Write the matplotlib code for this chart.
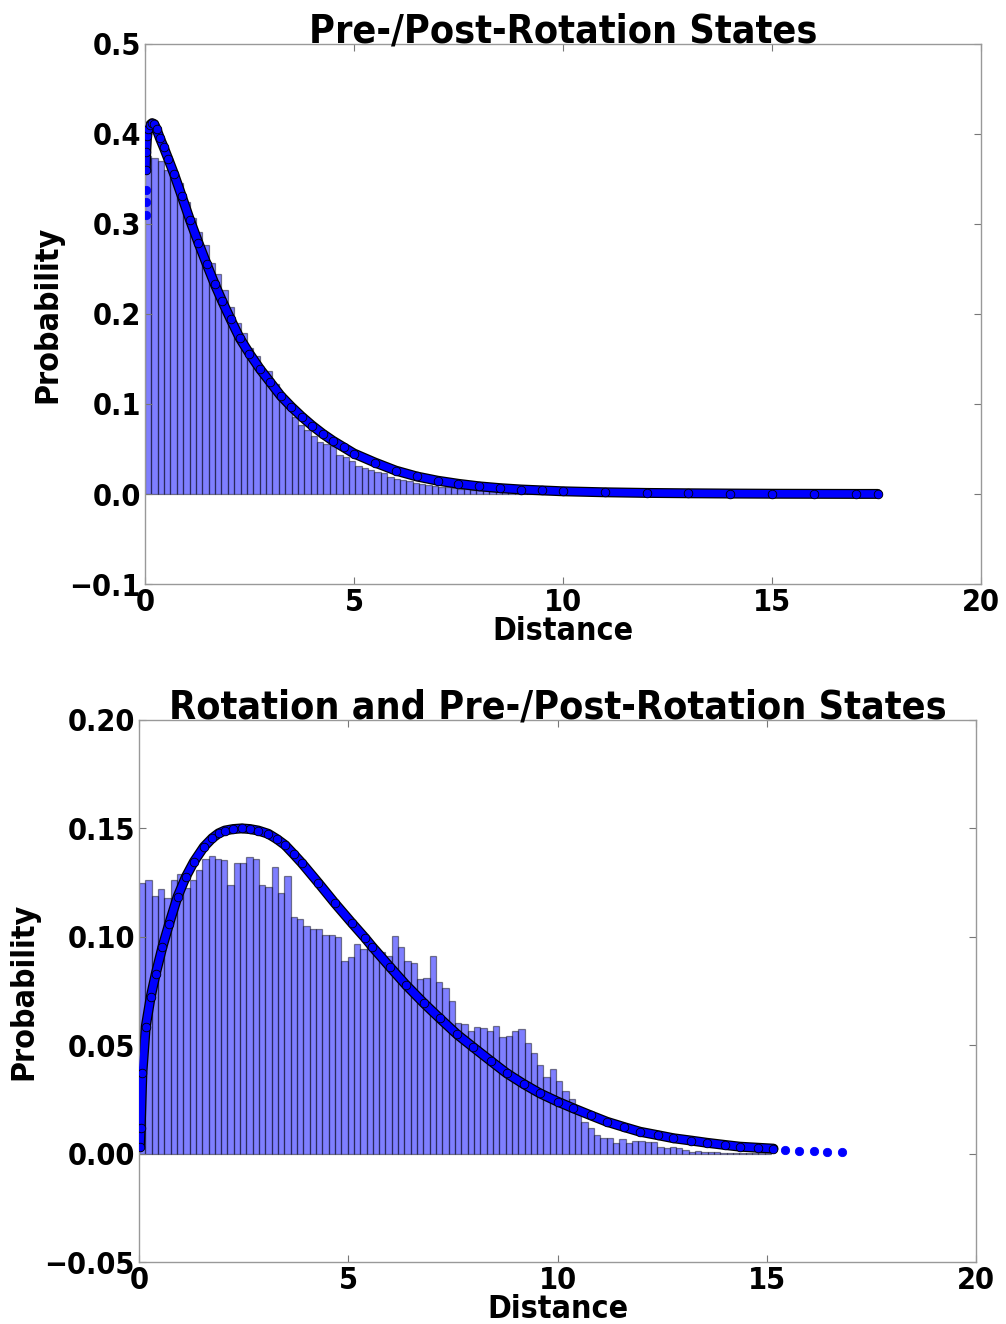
import numpy as np
import matplotlib
matplotlib.use("Agg")
import matplotlib.pyplot as plt
from matplotlib import font_manager as fm

# ---------------- data ----------------
top_hist_range = (0.0, 15.25)
top_hist_heights = [
    0.376, 0.373, 0.370, 0.360, 0.353, 0.346, 0.324, 0.307, 0.291, 0.277,
    0.257, 0.244, 0.227, 0.208, 0.190, 0.179, 0.162, 0.153, 0.137, 0.137,
    0.122, 0.108, 0.097, 0.086, 0.077, 0.071, 0.064, 0.058, 0.056, 0.053,
    0.043, 0.041, 0.037, 0.031, 0.029, 0.027, 0.025, 0.023, 0.019, 0.017,
    0.0156, 0.0144, 0.0125, 0.0110, 0.0100, 0.0090, 0.0082, 0.0075, 0.0068, 0.0060,
    0.0055, 0.0050, 0.0045, 0.0040, 0.0036, 0.0032, 0.0030, 0.0027, 0.0024, 0.0022,
    0.0020, 0.0018, 0.0016, 0.0015, 0.0013, 0.0012, 0.0011, 0.0010, 0.0009, 0.0008,
    0.0007, 0.0007, 0.0006, 0.0005, 0.0005, 0.0004, 0.0004, 0.0003, 0.0003, 0.0003,
    0.0002, 0.0002, 0.0002, 0.0002, 0.0002, 0.0002, 0.0002, 0.0002, 0.0002, 0.0002,
    0.0001, 0.0001, 0.0001, 0.0001, 0.0001, 0.0001, 0.0001, 0.0001, 0.0001, 0.0001,
]

top_iso_x = [0.02, 0.02, 0.02]
top_iso_y = [0.310, 0.324, 0.338]
top_curve_x = [0.02, 0.03, 0.05, 0.08, 0.12, 0.17, 0.22, 0.28, 0.36, 0.45, 0.56, 0.70, 0.88,
               1.08, 1.28, 1.48, 1.67, 1.85, 2.05, 2.27, 2.50, 2.75, 3.00, 3.25, 3.50,
               3.75, 4.00, 4.25, 4.50, 4.75, 5.00, 5.50, 6.00, 6.50, 7.00, 7.50, 8.00,
               8.50, 9.00, 9.50, 10.0, 11.0, 12.0, 13.0, 14.0, 15.0, 16.0, 17.0, 17.53]
top_curve_y = [0.360, 0.380, 0.398, 0.406, 0.410, 0.412, 0.411, 0.405, 0.395, 0.385, 0.372, 0.355, 0.331,
               0.304, 0.279, 0.255, 0.233, 0.214, 0.194, 0.173, 0.156, 0.139, 0.124, 0.109, 0.097,
               0.086, 0.076, 0.067, 0.059, 0.052, 0.045, 0.035, 0.026, 0.0195, 0.0148, 0.0113, 0.0085,
               0.0065, 0.0050, 0.0040, 0.0030, 0.0019, 0.0012, 0.0008, 0.0005, 0.0003, 0.0002, 0.0001, 0.0001]

bot_hist_range = (0.0, 15.1)
bot_hist_heights = [
    0.125, 0.126, 0.119, 0.122, 0.118, 0.126, 0.129, 0.1225, 0.126, 0.131,
    0.136, 0.1375, 0.136, 0.1355, 0.124, 0.134, 0.134, 0.137, 0.136, 0.124,
    0.123, 0.132, 0.120, 0.128, 0.109, 0.108, 0.105, 0.1035, 0.1035, 0.101,
    0.101, 0.100, 0.089, 0.0905, 0.0968, 0.0946, 0.097, 0.095, 0.093, 0.091,
    0.1005, 0.0952, 0.0889, 0.088, 0.0806, 0.081, 0.0913, 0.079, 0.0763, 0.0706,
    0.0601, 0.0598, 0.0566, 0.0584, 0.0578, 0.0566, 0.0589, 0.054, 0.0543, 0.0566,
    0.0575, 0.0512, 0.0463, 0.0409, 0.0355, 0.0389, 0.0337, 0.0289, 0.0251, 0.0198,
    0.0146, 0.0117, 0.0086, 0.0072, 0.0072, 0.0048, 0.0066, 0.0048, 0.0057, 0.0057,
    0.0054, 0.0054, 0.0032, 0.0025, 0.0029, 0.0025, 0.0017, 0.0009, 0.0014, 0.0008,
    0.0006, 0.0006, 0.0005, 0.0004, 0.0003, 0.0003, 0.0002, 0.0002, 0.0001, 0.0001,
]

bot_curve_x = [0.02, 0.04, 0.08, 0.16, 0.28, 0.40, 0.56, 0.72, 0.92, 1.12, 1.31, 1.55,
               1.75, 1.90, 2.05, 2.25, 2.45, 2.65, 2.85, 3.09, 3.30, 3.49, 3.70, 3.89,
               4.28, 4.68, 5.08, 5.40, 5.57, 6.00, 6.37, 6.80, 7.18, 7.60, 7.99, 8.40,
               8.79, 9.20, 9.58, 10.0, 10.38, 10.8, 11.18, 11.6, 11.97, 12.4, 12.77, 13.2,
               13.57, 14.0, 14.36, 14.8, 15.16]
bot_curve_y = [0.003, 0.012, 0.037, 0.0585, 0.0724, 0.083, 0.0954, 0.106, 0.1185, 0.1277, 0.1346, 0.1415,
               0.1455, 0.1477, 0.149, 0.1497, 0.150, 0.1497, 0.149, 0.1475, 0.145, 0.1423, 0.138, 0.134,
               0.125, 0.1155, 0.1065, 0.0995, 0.0955, 0.086, 0.078, 0.0695, 0.0625, 0.055, 0.049, 0.0428,
               0.037, 0.032, 0.0278, 0.024, 0.0209, 0.0176, 0.0147, 0.0122, 0.0101, 0.0085, 0.0071, 0.006,
               0.0050, 0.004, 0.0032, 0.0027, 0.0023]
bot_iso_x = [15.44, 15.78, 16.13, 16.43, 16.80]
bot_iso_y = [0.0017, 0.0013, 0.0011, 0.0009, 0.0006]

# ---------------- fonts ----------------
cond_file = None
for f in fm.fontManager.ttflist:
    fn = f.fname.lower()
    if 'dejavusanscondensed-bold.' in fn.replace(' ', ''):
        cond_file = f.fname
        break

if cond_file is not None:
    def fp(size):
        return fm.FontProperties(fname=cond_file, size=size)
    title_fs, label_fs, tick_fs = 28.3, 23, 22
else:
    def fp(size):
        return fm.FontProperties(family='DejaVu Sans', weight='bold', size=size)
    title_fs, label_fs, tick_fs = 25.5, 21, 20

plt.rcParams['font.family'] = ['DejaVu Sans']
plt.rcParams['font.weight'] = 'bold'

fig = plt.figure(figsize=(10.06, 13.24), dpi=100)
ax1 = fig.add_axes([0.1441, 0.5589, 0.8310, 0.4079])
ax2 = fig.add_axes([0.1382, 0.0468, 0.8320, 0.4094])


def draw(ax, hist_range, heights, cx, cy, ix, iy, title, ylim, yticks):
    n = len(heights)
    edges = np.linspace(hist_range[0], hist_range[1], n + 1)
    ax.bar(edges[:-1], heights, width=np.diff(edges), align='edge',
           color=(0, 0, 1, 0.5), edgecolor=(0, 0, 0, 0.45), linewidth=0.9, zorder=1)
    ax.plot(cx, cy, '-', color='black', lw=7.2, solid_capstyle='round',
            solid_joinstyle='round', zorder=2)
    ax.plot(cx, cy, '-', color='blue', lw=5.4, solid_capstyle='round',
            solid_joinstyle='round', zorder=3)
    ax.plot(cx, cy, 'o', color='blue', mec='black', mew=0.6, ms=6.2, zorder=4)
    ax.plot(ix, iy, 'o', color='blue', mec='blue', mew=0.6, ms=6.0, zorder=4)
    ax.set_xlim(0, 20)
    ax.set_ylim(*ylim)
    ax.set_yticks(yticks)
    ax.set_xticks([0, 5, 10, 15, 20])
    ax.set_title(title, fontproperties=fp(title_fs), pad=1)
    ax.set_xlabel('Distance', fontproperties=fp(label_fs), labelpad=-1)
    ax.set_ylabel('Probability', fontproperties=fp(label_fs), labelpad=4)
    ax.tick_params(direction='in', top=True, right=True, length=5, width=0.8,
                   color='#777777', pad=3)
    for lab in ax.get_xticklabels() + ax.get_yticklabels():
        lab.set_fontproperties(fp(tick_fs))
    for s in ax.spines.values():
        s.set_color('#999999')
        s.set_linewidth(1.0)


draw(ax1, top_hist_range, top_hist_heights, top_curve_x, top_curve_y, top_iso_x, top_iso_y,
     'Pre-/Post-Rotation States', (-0.1, 0.5), [-0.1, 0.0, 0.1, 0.2, 0.3, 0.4, 0.5])
draw(ax2, bot_hist_range, bot_hist_heights, bot_curve_x, bot_curve_y, bot_iso_x, bot_iso_y,
     'Rotation and Pre-/Post-Rotation States', (-0.05, 0.20), [-0.05, 0.0, 0.05, 0.10, 0.15, 0.20])

fig.savefig('out.png', dpi=100)
